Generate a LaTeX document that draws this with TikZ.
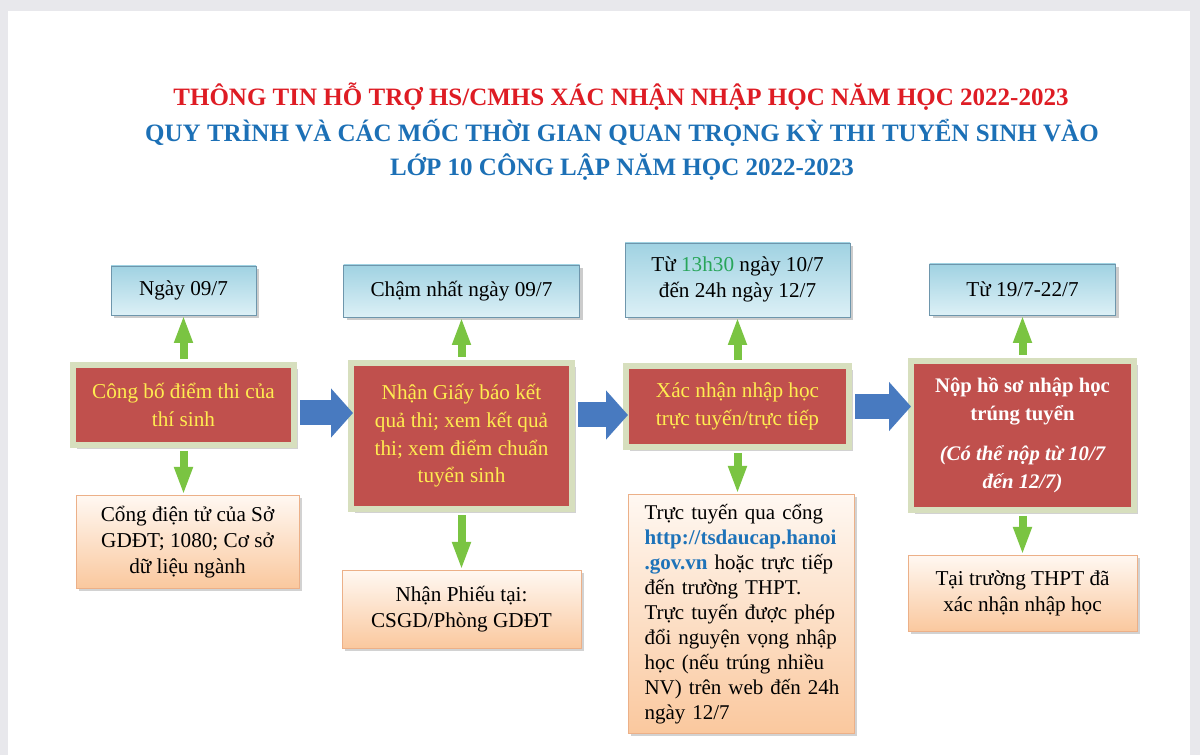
\documentclass[tikz,border=0pt]{standalone}
\usepackage{fontspec}
\setmainfont{Liberation Serif}
\usepackage{tikz}
\usetikzlibrary{positioning}
\usetikzlibrary{arrows.meta,shadows}
\tikzset{>=Stealth}

\definecolor{pagegray}{RGB}{232,232,236}
\definecolor{titlered}{RGB}{222,28,36}
\definecolor{titleblue}{RGB}{28,112,182}
\definecolor{stepred}{RGB}{192,80,77}
\definecolor{stepframe}{RGB}{215,223,190}
\definecolor{stepyellow}{RGB}{255,236,80}
\definecolor{datetop}{RGB}{160,210,226}
\definecolor{datebot}{RGB}{220,240,246}
\definecolor{dateedge}{RGB}{110,150,172}
\definecolor{notetop}{RGB}{255,248,242}
\definecolor{notebot}{RGB}{250,200,158}
\definecolor{noteedge}{RGB}{236,176,136}
\definecolor{flowblue}{RGB}{72,122,192}
\definecolor{linkgreen}{RGB}{122,196,66}
\definecolor{hourgreen}{RGB}{40,165,90}
\definecolor{urlblue}{RGB}{30,115,185}

\newcommand{\jline}[1]{\makebox[\hsize][s]{#1}\\}

\tikzset{
  titleline/.style={font=\fontsize{25}{30}\selectfont\bfseries, inner sep=0pt},
  datebox/.style={draw=dateedge, top color=datetop, bottom color=datebot,
    drop shadow={shadow xshift=3pt, shadow yshift=-3pt, opacity=0.4},
    font=\fontsize{21.2}{26}\selectfont, align=center, inner sep=2pt},
  stepbox/.style={draw=stepframe, line width=6pt, fill=stepred,
    drop shadow={shadow xshift=4pt, shadow yshift=-4pt, opacity=0.35},
    text=stepyellow, font=\fontsize{21.2}{27.7}\selectfont, align=center, inner sep=2pt},
  notebox/.style={draw=noteedge, top color=notetop, bottom color=notebot,
    drop shadow={shadow xshift=3pt, shadow yshift=-3pt, opacity=0.35},
    font=\fontsize{21.2}{26}\selectfont, align=center, inner sep=2pt},
  flow/.style={line width=25pt, flowblue, -{Triangle[width=48pt,length=22pt]}},
  link/.style={line width=8pt, linkgreen, -{Triangle[width=17pt,length=28pt]}}
}

\begin{document}
\begin{tikzpicture}[x=1pt,y=1pt]
  \fill[pagegray] (0,0) rectangle (1200,755);
  \fill[white] (8,0) rectangle (1190,744);
  \useasboundingbox (0,0) rectangle (1200,755);

  \node[titleline, text=titlered]  (head) at (621,658) {THÔNG TIN HỖ TRỢ HS/CMHS XÁC NHẬN NHẬP HỌC NĂM HỌC 2022-2023};
  \node[titleline, text=titleblue] (sub1) at (622,622) {QUY TRÌNH VÀ CÁC MỐC THỜI GIAN QUAN TRỌNG KỲ THI TUYỂN SINH VÀO};
  \node[titleline, text=titleblue] (sub2) at (622,588) {LỚP 10 CÔNG LẬP NĂM HỌC 2022-2023};

  % main steps
  \node[stepbox, minimum width=221pt, minimum height=80pt]  (step1) at (183.5,350) {Công bố điểm thi của\\thí sinh};
  \node[stepbox, minimum width=221pt, minimum height=146pt] (step2) at (461.5,319) {Nhận Giấy báo kết\\quả thi; xem kết quả\\thi; xem điểm chuẩn\\tuyển sinh};
  \node[stepbox, minimum width=223pt, minimum height=81pt]  (step3) at (737.5,348.5) {Xác nhận nhập học\\trực tuyến/trực tiếp};
  \node[stepbox, minimum width=223pt, minimum height=149pt, text=white, font=\fontsize{20.7}{28}\selectfont\bfseries] (step4) at (1022.5,319.5)
    {Nộp hồ sơ nhập học\\trúng tuyển\\[12pt]{\itshape (Có thể nộp từ 10/7}\\{\itshape đến 12/7)}};

  % dates
  \node[datebox, minimum width=145pt, minimum height=49pt, above=47pt of step1] (date1) {Ngày 09/7};
  \node[datebox, minimum width=236pt, minimum height=52pt, above=43pt of step2] (date2) {Chậm nhất ngày 09/7};
  \node[datebox, minimum width=225pt, minimum height=74pt, above=46pt of step3] (date3) {Từ \textcolor{hourgreen}{13h30} ngày 10/7\\đến 24h ngày 12/7};
  \node[datebox, minimum width=186pt, minimum height=51pt, above=43pt of step4] (date4) {Từ 19/7-22/7};

  % where
  \node[notebox, minimum width=223pt, minimum height=93pt, below=47pt of step1, xshift=4pt] (note1) {Cổng điện tử của Sở\\GDĐT; 1080; Cơ sở\\dữ liệu ngành};
  \node[notebox, minimum width=239pt, minimum height=78pt, below=58pt of step2] (note2) {Nhận Phiếu tại:\\CSGD/Phòng GDĐT};
  \node[notebox, minimum width=226pt, minimum height=239pt, below=44pt of step3, xshift=3.5pt,
    text width=193pt, align=left, font=\fontsize{21}{25}\selectfont] (note3)
    {\jline{Trực tuyến qua cổng}
     \jline{\textcolor{urlblue}{\bfseries http://tsdaucap.hanoi}}
     \jline{\textcolor{urlblue}{\bfseries .gov.vn} hoặc trực tiếp}
     đến trường THPT.\\
     \jline{Trực tuyến được phép}
     \jline{đổi nguyện vọng nhập}
     \jline{học (nếu trúng nhiều}
     \jline{NV) trên web đến 24h}
     ngày 12/7};
  \node[notebox, minimum width=229pt, minimum height=76pt, below=42pt of step4] (note4) {Tại trường THPT đã\\xác nhận nhập học};

  \foreach \i in {1,...,4}{
    \draw[link] ([yshift=3pt]step\i.north) -- (step\i.north |- date\i.south);
    \draw[link] ([yshift=-3pt]step\i.south) -- (step\i.south |- note\i.north);
  }

  \draw[flow] ([xshift=3pt,yshift=-8pt]step1.east) -- ([xshift=5pt,yshift=-8pt]step1.east -| step2.west);
  \draw[flow] ([xshift=3pt,yshift=21pt]step2.east) -- ([xshift=5pt,yshift=21pt]step2.east -| step3.west);
  \draw[flow] ([xshift=3pt]step3.east) -- ([xshift=3pt]step3.east -| step4.west);
\end{tikzpicture}
\end{document}
